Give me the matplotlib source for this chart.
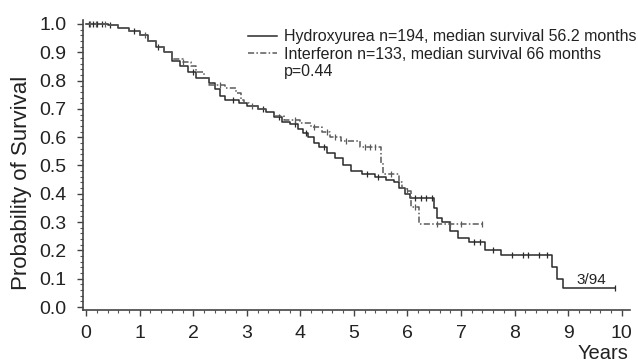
import numpy as np
import matplotlib
matplotlib.use("Agg")
import matplotlib.pyplot as plt
from matplotlib.ticker import MultipleLocator
from matplotlib.lines import Line2D

plt.rcParams['font.family'] = ['Liberation Sans', 'DejaVu Sans']

# Hydroxyurea (solid) KM steps: time (years), survival
hu_t = [0.0, 0.4, 0.6, 0.8, 1.0, 1.15, 1.3, 1.45, 1.6, 1.75, 1.9, 2.05, 2.3, 2.4, 2.5, 2.6,
        2.85, 3.0, 3.2, 3.35, 3.5, 3.65, 3.8, 3.95, 4.05, 4.15, 4.25, 4.35, 4.5, 4.65, 4.8,
        4.95, 5.15, 5.4, 5.6, 5.75, 5.85, 5.95, 6.05, 6.5, 6.55, 6.65, 6.8, 6.95, 7.15,
        7.45, 7.75, 8.7, 8.8, 8.9]
hu_s = [1.0, 0.995, 0.985, 0.975, 0.96, 0.94, 0.92, 0.90, 0.87, 0.85, 0.83, 0.81, 0.79,
        0.77, 0.745, 0.73, 0.72, 0.71, 0.70, 0.69, 0.67, 0.655, 0.645, 0.63, 0.615, 0.60,
        0.58, 0.565, 0.545, 0.525, 0.50, 0.48, 0.47, 0.46, 0.45, 0.44, 0.42, 0.40, 0.385,
        0.35, 0.315, 0.30, 0.27, 0.245, 0.23, 0.20, 0.185, 0.14, 0.10, 0.067]
hu_end = 9.87
hu_cens = [0.05, 0.12, 0.2, 0.3, 0.45, 0.9, 1.35, 2.0, 2.75, 3.3, 3.6, 3.9, 4.1, 4.45,
           5.25, 5.45, 6.15, 6.25, 6.35, 6.45, 7.25, 7.35, 7.6, 7.95, 8.15, 8.25, 8.45,
           8.6, 9.87]

# Interferon (dash-dot) KM steps
if_t = [0.0, 0.4, 0.6, 0.8, 1.0, 1.15, 1.3, 1.45, 1.6, 1.8, 1.95, 2.05, 2.2, 2.3, 2.6,
        2.8, 2.9, 2.95, 3.05, 3.2, 3.35, 3.5, 3.7, 4.0, 4.2, 4.4, 4.55, 4.75, 5.12, 5.5,
        5.55, 5.84, 5.9, 6.0, 6.06, 6.22]
if_s = [1.0, 0.995, 0.985, 0.975, 0.96, 0.94, 0.92, 0.90, 0.875, 0.865, 0.85, 0.83, 0.81,
        0.785, 0.775, 0.755, 0.73, 0.72, 0.71, 0.70, 0.69, 0.675, 0.66, 0.65, 0.635,
        0.62, 0.60, 0.585, 0.565, 0.51, 0.47, 0.44, 0.42, 0.41, 0.355, 0.295]
if_end = 7.4
if_cens = [0.08, 0.18, 0.35, 1.1, 1.8, 2.5, 3.1, 3.9, 4.25, 4.5, 4.65, 4.85, 5.2, 5.3,
           5.4, 5.7, 6.0, 6.15, 6.55, 6.8, 7.0, 7.4]

labels = ["Hydroxyurea n=194, median survival 56.2 months",
          "Interferon n=133, median survival 66 months"]
p_text = "p=0.44"
xticks = list(range(0, 11))
yticks = [0.0, 0.1, 0.2, 0.3, 0.4, 0.5, 0.6, 0.7, 0.8, 0.9, 1.0]

fig = plt.figure(figsize=(6.38, 3.64), dpi=100)
ax = fig.add_axes([0.130, 0.148, 0.857, 0.797])

def km(ax, t, s, end, cens, color, ls):
    tt = list(t) + [end]
    ss = list(s) + [s[-1]]
    line, = ax.step(tt, ss, where='post', color=color, lw=1.1, linestyle=ls)
    cs = [s[np.searchsorted(t, c, side='right') - 1] for c in cens]
    ax.plot(cens, cs, linestyle='none', marker='|', markersize=4, mew=0.9, color=color)
    return line

l1 = km(ax, hu_t, hu_s, hu_end, hu_cens, '#2a2a2a', '-')
l2 = km(ax, if_t, if_s, if_end, if_cens, '#5a5a5a', (0, (4, 1.5, 1, 1.5)))
blank = Line2D([], [], linestyle='none')

ax.set_xlim(-0.06, 10.15)
ax.set_ylim(-0.011, 1.014)
ax.set_xticks(xticks)
ax.set_yticks(yticks)
ax.set_yticklabels([f"{v:.1f}" for v in yticks])
ax.xaxis.set_minor_locator(MultipleLocator(0.2))
ax.yaxis.set_minor_locator(MultipleLocator(0.02))
ax.tick_params(axis='both', which='major', labelsize=14, length=4, width=1,
               color='#444444', labelcolor='#222222')
ax.tick_params(axis='y', which='major', pad=8)
ax.tick_params(axis='x', which='major', pad=7)
ax.tick_params(axis='both', which='minor', length=2, width=0.8, color='#555555')
for sp in ['top', 'right']:
    ax.spines[sp].set_visible(False)
for sp in ['left', 'bottom']:
    ax.spines[sp].set_color('#444444')
    ax.spines[sp].set_linewidth(1.2)

ax.set_ylabel("Probability of Survival", fontsize=16, color='#222222')
ax.yaxis.set_label_coords(-0.093, 0.44)
fig.text(0.985, 0.002, "Years", ha='right', va='bottom', fontsize=14.5, color='#222222')

leg = ax.legend([l1, l2, blank], labels + [p_text], loc='upper left',
                bbox_to_anchor=(0.291, 0.99), frameon=False, fontsize=11.5,
                handlelength=1.8, handletextpad=0.45, labelspacing=0.14,
                borderaxespad=0)
for txt in leg.get_texts():
    txt.set_color('#222222')
ax.text(9.44, 0.097, "3/94", fontsize=11, color='#222222', ha='center', va='center')

fig.savefig("out.png", dpi=100)
